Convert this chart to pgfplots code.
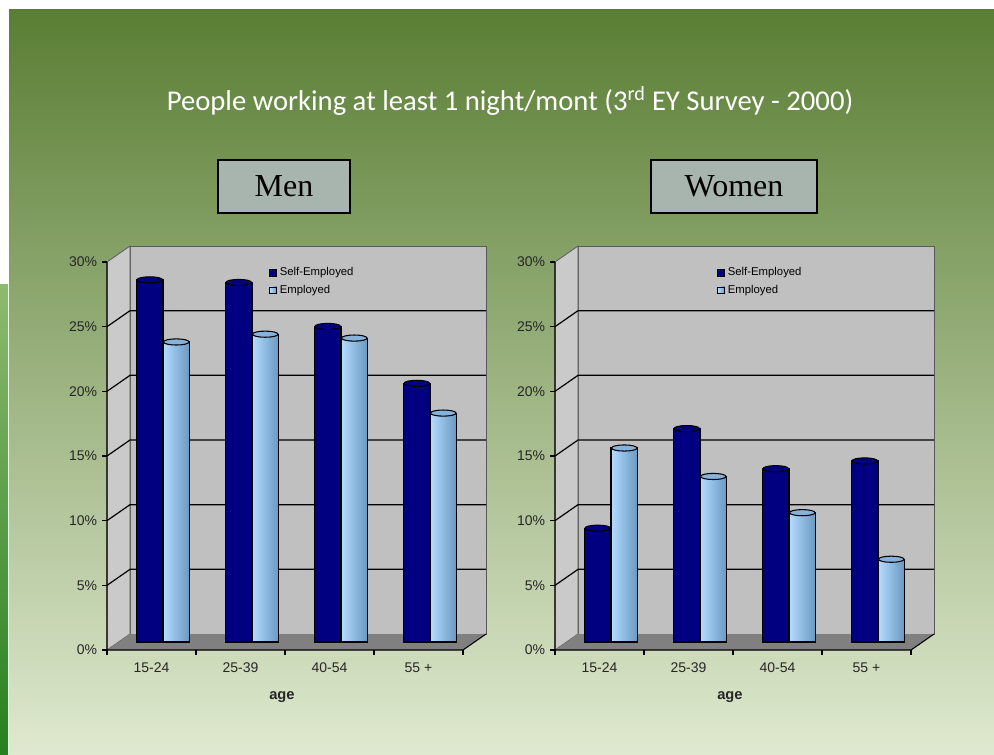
\documentclass[border=0pt]{standalone}
\usepackage{fontspec}
\setmainfont{Liberation Sans}
\newfontfamily\titlefont{Carlito}
\newfontfamily\boxfont{Liberation Serif}
\usepackage{pgfplots}
\usepackage{pgfplotstable}
\pgfplotsset{compat=1.18}

\definecolor{navy}{HTML}{000080}
\definecolor{lbA}{HTML}{B4DCFF}
\definecolor{lbB}{HTML}{6A98C2}
\definecolor{lbcap}{HTML}{86B2DC}
\definecolor{wallgray}{HTML}{C0C0C0}
\definecolor{sidegray}{HTML}{CACACA}
\definecolor{floorgray}{HTML}{808080}
\definecolor{boxfill}{HTML}{A8B4AE}
\definecolor{bgtop}{HTML}{5A7E34}
\definecolor{bgbot}{HTML}{DFE9CF}
\definecolor{striptop}{HTML}{8EBA70}
\definecolor{stripbot}{HTML}{26801F}

\pgfplotstableread{
x se e
0 28.0 23.2
1 27.8 23.8
2 24.4 23.5
3 20.0 17.7
}\mendata

\pgfplotstableread{
x se e
0 8.8 15.0
1 16.5 12.8
2 13.4 10.0
3 14.0 6.4
}\womendata

\pgfdeclareplotmark{capmark}{%
  \pgfpathellipse{\pgfpointorigin}{\pgfpoint{9.6pt}{0pt}}{\pgfpoint{0pt}{2.3pt}}%
  \pgfusepathqfillstroke}

\newcommand\B[2]{([xshift=8.625pt,yshift=6pt]axis cs:#1,#2)}
\newcommand\F[2]{([xshift=-8.625pt,yshift=-6pt]axis cs:#1,#2)}

\newcommand\drawframe{%
    \fill[wallgray, draw=gray!70!black, line width=0.6pt] \B{-0.5}{0} rectangle \B{3.5}{30};
    \fill[sidegray, draw=gray!70!black, line width=0.6pt] \F{-0.5}{0} -- \F{-0.5}{30} -- \B{-0.5}{30} -- \B{-0.5}{0} -- cycle;
    \fill[floorgray] \F{-0.5}{0} -- \F{3.5}{0} -- \B{3.5}{0} -- \B{-0.5}{0} -- cycle;
    \pgfplotsinvokeforeach{5,10,15,20,25}{%
      \draw[black, line width=0.9pt] \F{-0.5}{##1} -- \B{-0.5}{##1} -- \B{3.5}{##1};
    }
    \draw[black, line width=0.8pt] \F{-0.5}{30} -- \F{-0.5}{0} -- \F{3.5}{0} -- \B{3.5}{0};
    \pgfplotsinvokeforeach{0,5,10,15,20,25,30}{%
      \draw[black, line width=0.8pt] \F{-0.5}{##1} -- ([xshift=-12.375pt,yshift=-6pt]axis cs:-0.5,##1);
    }
    \pgfplotsinvokeforeach{-0.5,0.5,1.5,2.5,3.5}{%
      \draw[black, line width=0.8pt] \F{##1}{0} -- ([xshift=-8.625pt,yshift=-9.75pt]axis cs:##1,0);
    }%
}

\pgfplotsset{
  panel/.style={
    scale only axis,
    width=267pt, height=291pt,
    xmin=-0.5, xmax=3.5, ymin=0, ymax=30,
    ybar=0pt, bar width=19.875pt,
    axis line style={draw=none},
    tick style={draw=none},
    major tick length=0pt,
    xtick={0,1,2,3},
    xticklabels={15-24,25-39,40-54,55 +},
    ytick={0,5,10,15,20,25,30},
    yticklabels={0\%,5\%,10\%,15\%,20\%,25\%,30\%},
    tick label style={font=\fontsize{10.5}{12}\selectfont, text=black!85},
    yticklabel style={xshift=-12.5pt, yshift=-6pt},
    xticklabel style={xshift=-8.625pt, yshift=-12pt},
    xlabel={age},
    xlabel style={at={(axis description cs:0.459,0)}, anchor=center, yshift=-41.5pt, font=\bfseries\fontsize{11}{13}\selectfont, text=black!85},
    clip=false,
    legend style={at={(0.412,0.979)}, anchor=north west, draw=none, fill=none,
      font=\fontsize{8.5}{10}\selectfont, row sep=1.5pt, legend cell align=left,
      /tikz/every even column/.append style={column sep=1pt}},
  },
  sq/.style={legend image code/.code={\draw[##1, line width=0.6pt] (0pt,-2.6pt) rectangle (5.2pt,2.6pt);}},
  se/.style={fill=navy, draw=black, line width=0.8pt, sq, bar shift=-9.9375pt},
  em/.style={left color=lbA, right color=lbB, draw=black, line width=0.8pt, sq, bar shift=9.9375pt},
  secap/.style={only marks, mark=capmark, mark options={fill=navy, draw=black, line width=0.8pt}, forget plot},
  emcap/.style={only marks, mark=capmark, mark options={fill=lbcap, draw=black, line width=0.8pt}, forget plot},
}

\begin{document}
\begin{tikzpicture}
% background
\fill[white] (0pt,0pt) rectangle (745.5pt,565.5pt);
\shade[top color=bgtop, bottom color=bgbot] (6.75pt,0pt) rectangle (745.5pt,558pt);
\shade[top color=striptop, bottom color=stripbot] (0pt,0pt) rectangle (6pt,351.75pt);

\node[text=white, font=\titlefont\fontsize{21.5}{24}\selectfont] at (382.5pt,490pt)
  {People working at least 1 night/mont (3\textsuperscript{rd} EY Survey - 2000)};

\node[draw=black, line width=1pt, fill=boxfill, minimum width=99pt, minimum height=39.75pt,
      font=\boxfont\fontsize{24}{26}\selectfont] at (213pt,425.6pt) {Men};
\node[draw=black, line width=1pt, fill=boxfill, minimum width=124.5pt, minimum height=39.75pt,
      font=\boxfont\fontsize{24}{26}\selectfont] at (550.5pt,425.6pt) {Women};

\begin{axis}[panel, at={(88.875pt,84pt)}, anchor=south west]
  \drawframe
  \addplot[se] table[x=x, y=se] {\mendata};
  \addplot[em] table[x=x, y=e, skip coords between index={1}{4}] {\mendata};
  \addplot[em, forget plot] table[x=x, y=e, skip coords between index={0}{1}, skip coords between index={2}{4}] {\mendata};
  \addplot[em, forget plot] table[x=x, y=e, skip coords between index={0}{2}, skip coords between index={3}{4}] {\mendata};
  \addplot[em, forget plot] table[x=x, y=e, skip coords between index={0}{3}] {\mendata};
  \addplot[secap] table[x expr=\thisrow{x}-0.1489, y=se] {\mendata};
  \addplot[emcap] table[x expr=\thisrow{x}+0.1489, y=e] {\mendata};
  \legend{Self-Employed, Employed}
\end{axis}

\begin{axis}[panel, at={(424.875pt,84pt)}, anchor=south west]
  \drawframe
  \addplot[se] table[x=x, y=se] {\womendata};
  \addplot[em] table[x=x, y=e, skip coords between index={1}{4}] {\womendata};
  \addplot[em, forget plot] table[x=x, y=e, skip coords between index={0}{1}, skip coords between index={2}{4}] {\womendata};
  \addplot[em, forget plot] table[x=x, y=e, skip coords between index={0}{2}, skip coords between index={3}{4}] {\womendata};
  \addplot[em, forget plot] table[x=x, y=e, skip coords between index={0}{3}] {\womendata};
  \addplot[secap] table[x expr=\thisrow{x}-0.1489, y=se] {\womendata};
  \addplot[emcap] table[x expr=\thisrow{x}+0.1489, y=e] {\womendata};
  \legend{Self-Employed, Employed}
\end{axis}
\end{tikzpicture}
\end{document}
